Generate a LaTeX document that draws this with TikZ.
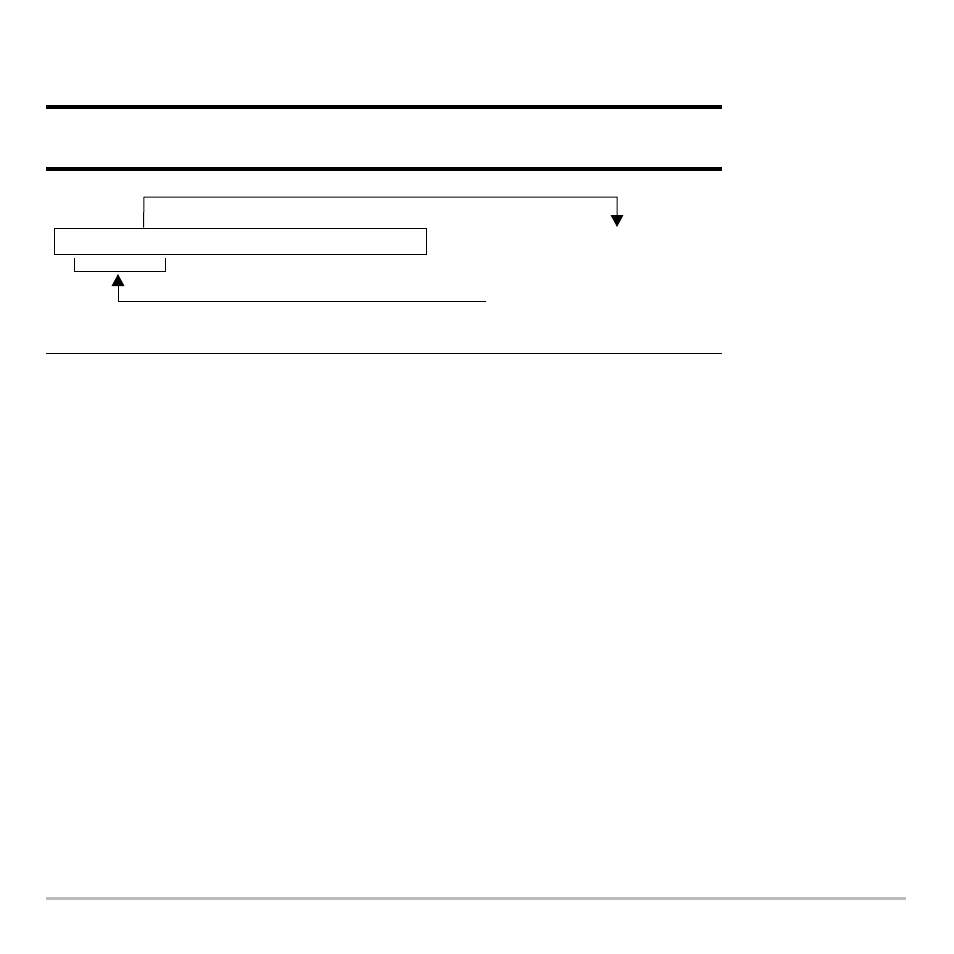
\documentclass[tikz,border=0pt]{standalone}
\usepackage{tikz}
\usetikzlibrary{arrows.meta}
\definecolor{rulegray}{RGB}{187,187,187}

\begin{document}
\begin{tikzpicture}[x=0.75pt,y=-0.75pt,
    heavyrule/.style={line width=3pt},
    thinrule/.style={line width=0.75pt},
    link/.style={line width=0.75pt,-{Triangle[width=9.5pt,length=9pt]}},
    field/.style={draw,line width=0.75pt,inner sep=0pt,minimum width=279pt,minimum height=19.5pt}]
      \useasboundingbox (0,0) rectangle (954,954);

      % Heading rules
      \draw[heavyrule] (46,107) -- (722,107);
      \draw[heavyrule] (46,169) -- (722,169);

      % Entry box
      \node[field] (box) at (240,241) {};

      % Bracket under the box
      \draw[thinrule] (74,258) |- (165,271) -- (165,258);

      % Connector points
      \coordinate (toprise) at (144,197);
      \coordinate (topend) at (617,227);
      \coordinate (lowsrc) at (486,301);
      \coordinate (brktip) at (118,274);

      % Arrows
      \draw[link] ([xshift=67.5pt]box.north west) -- (toprise) -| (topend);
      \draw[link] (lowsrc) -| (brktip);

      % Closing rule
      \draw[thinrule] (46,353) -- (722,353);

      % Page footer rule
      \draw[line width=2.25pt, rulegray] (46,898) -- (906,898);
\end{tikzpicture}
\end{document}
